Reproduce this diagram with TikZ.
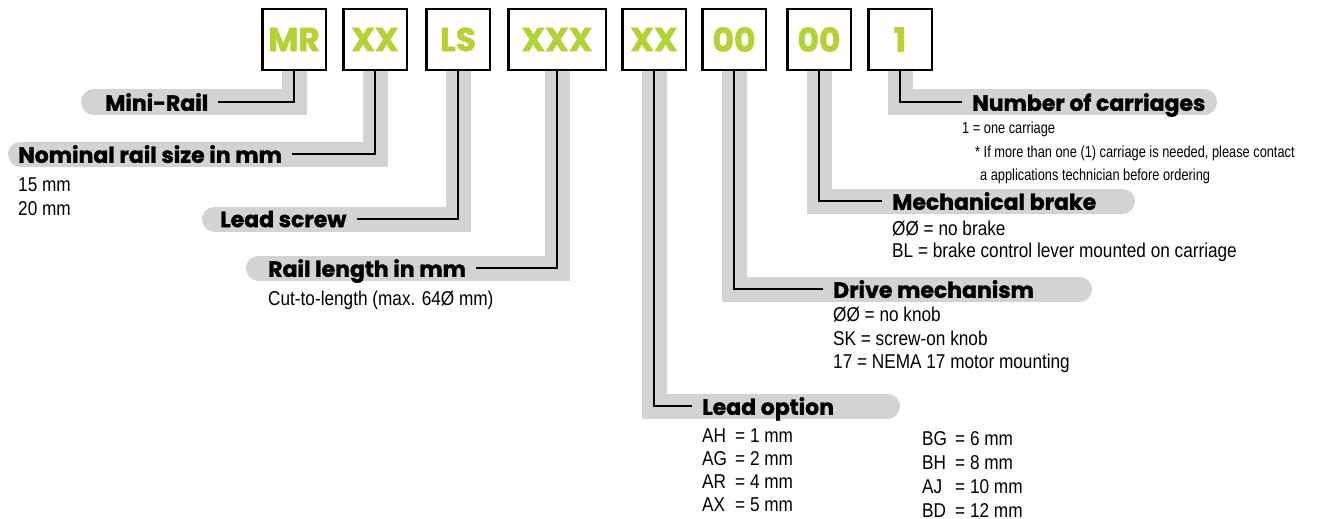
\documentclass[tikz,border=0pt]{standalone}
\usepackage{fontspec}
\usetikzlibrary{backgrounds}
\newfontfamily\tagfont{Poppins}[BoldFeatures={FakeBold=1.4}]
\newfontfamily\infofont[FakeStretch=0.86]{Liberation Sans}
\newfontfamily\notefont[FakeStretch=0.8]{Liberation Sans}
\definecolor{codegreen}{RGB}{181,210,52}
\definecolor{bandgray}{RGB}{209,211,212}
\newcommand\leadrow[2]{\makebox[33pt][l]{#1}= #2}

\begin{document}
\begin{tikzpicture}[x=1pt,y=-1pt,
    codebox/.style={draw,line width=2.5pt,fill=white,minimum width=63.5pt,
      minimum height=61pt,inner sep=0pt,text=codegreen,
      font=\tagfont\bfseries\fontsize{33}{33}\selectfont},
    tag/.style={inner xsep=10pt,inner ysep=0pt,text depth=0pt,anchor=west,
      font=\tagfont\bfseries\fontsize{22}{22}\selectfont},
    info/.style={inner sep=0pt,anchor=base west,
      font=\infofont\fontsize{20}{24}\selectfont},
    note/.style={inner sep=0pt,anchor=base west,
      font=\notefont\fontsize{16}{20}\selectfont},
    band/.style={bandgray,line width=25pt,line cap=round,line join=miter},
    wire/.style={line width=2.7pt}]
  \useasboundingbox (0,0) rectangle (1326,519);

  % code boxes
  \node[codebox] (mr) at (294,39.5) {MR};
  \node[codebox] (size) at (375,39.5) {XX};
  \node[codebox] (screw) at (458,39.5) {LS};
  \node[codebox,minimum width=97.5pt] (len) at (557,39.5) {XXX};
  \node[codebox] (lead) at (654,39.5) {XX};
  \node[codebox] (drive) at (734,39.5) {00};
  \node[codebox] (brake) at (819,39.5) {00};
  \node[codebox] (carr) at (900,39.5) {1};

  % headings
  \node[tag] (mr-lbl) at (95,102) {Mini-Rail};
  \node[tag] (size-lbl) at (8,154) {Nominal rail size in mm};
  \node[tag] (screw-lbl) at (210,219) {Lead screw};
  \node[tag] (len-lbl) at (258,268) {Rail length in mm};
  \node[tag] (carr-lbl) at (962,102) {Number of carriages};
  \node[tag] (brake-lbl) at (882,201) {Mechanical brake};
  \node[tag] (drive-lbl) at (823,289) {Drive mechanism};
  \node[tag] (lead-lbl) at (692,406) {Lead option};

  % rounded ends of the gray bands
  \coordinate (mr-end) at (93.5,102);
  \coordinate (size-end) at (20.5,154);
  \coordinate (screw-end) at (214.5,219);
  \coordinate (len-end) at (258.5,268);
  \coordinate (carr-end) at (1204.5,102);
  \coordinate (brake-end) at (1122.5,201);
  \coordinate (drive-end) at (1079.5,289);
  \coordinate (lead-end) at (887.5,406);

  \begin{scope}[on background layer]
    \foreach \b in {mr,size,screw,len,carr,brake,drive,lead}
      \draw[band] (\b.south) |- (\b-end);
  \end{scope}

  % leader lines
  \foreach \b in {mr,size,screw,len}
    \draw[wire] (\b.south) |- (\b-lbl.east);
  \foreach \b in {carr,brake,drive,lead}
    \draw[wire] (\b.south) |- (\b-lbl.west);

  % options
  \node[info] (size1) at (18,191) {15 mm};
  \node[info] (size2) at (18,215) {20 mm};
  \node[info] (len1) at (268,305) {Cut-to-length (max. 64Ø mm)};
  \node[note] (carr1) at (962,133) {1 = one carriage};
  \node[note] (carr2) at (975,157) {* If more than one (1) carriage is needed, please contact};
  \node[note] (carr3) at (980,180) {a applications technician before ordering};
  \node[info] (brake1) at (892,235) {ØØ = no brake};
  \node[info] (brake2) at (892,257) {BL = brake control lever mounted on carriage};
  \foreach \t [count=\i] in {ØØ = no knob,SK = screw-on knob,17 = NEMA 17 motor mounting}
    \node[info] (drive\i) at (833,{297.5+23.8*\i}) {\t};
  \foreach \c/\v [count=\i] in {AH/1 mm,AG/2 mm,AR/4 mm,AX/5 mm}
    \node[info] (leadA\i) at (702,{418.7+23.3*\i}) {\leadrow{\c}{\v}};
  \foreach \c/\v [count=\i] in {BG/6 mm,BH/8 mm,AJ/10 mm,BD/12 mm}
    \node[info] (leadB\i) at (922,{421+24*\i}) {\leadrow{\c}{\v}};
\end{tikzpicture}
\end{document}
